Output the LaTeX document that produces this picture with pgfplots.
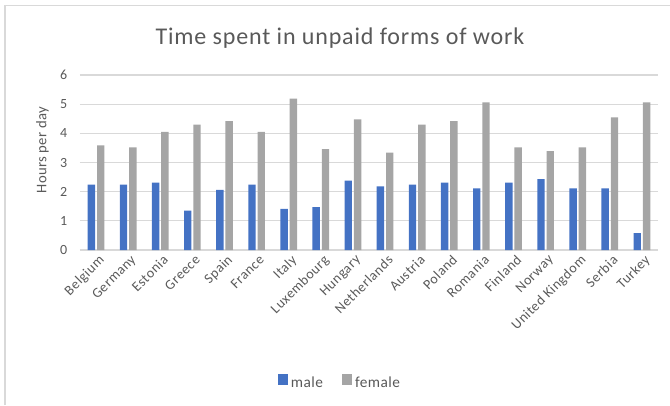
\documentclass[border=0pt]{standalone}
\usepackage{pgfplots}
\pgfplotsset{compat=1.18}
\usepackage{fontspec}
\setmainfont{Carlito}
\definecolor{tickc}{HTML}{595959}
\definecolor{gridc}{HTML}{D9D9D9}
\definecolor{malec}{HTML}{4472C4}
\definecolor{femalec}{HTML}{A5A5A5}
\begin{document}
\begin{tikzpicture}
\path[use as bounding box] (-60pt,-116.25pt) rectangle (442.5pt,187.5pt);
\draw[color=gridc, line width=1.2pt] (-56.25pt,-116.25pt) -- (-56.25pt,183.4pt) -- (442.5pt,183.4pt);
\node[font=\fontsize{18}{21}\selectfont\addfontfeatures{LetterSpace=3.5}, text=tickc] at (195pt,159pt) {Time spent in unpaid forms of work};
\begin{axis}[
  at={(0pt,0pt)}, anchor=south west,
  scale only axis, width=433.5pt, height=131.25pt,
  xmin=-0.5, xmax=17.5, ymin=0, ymax=6,
  ytick={0,1,2,3,4,5,6},
  xtick={0,...,17},
  xticklabels={Belgium,Germany,Estonia,Greece,Spain,France,Italy,Luxembourg,Hungary,Netherlands,Austria,Poland,Romania,Finland,Norway,United Kingdom,Serbia,Turkey},
  xticklabel style={rotate=45, anchor=north east, inner sep=1pt, yshift=-2pt, xshift=0pt, font=\fontsize{10.5}{12}\selectfont\addfontfeatures{LetterSpace=4}},
  ticklabel style={text=tickc},
  yticklabel style={xshift=-6pt, font=\fontsize{10.5}{12}\selectfont},
  /pgf/number format/assume math mode=true,
  major tick length=0pt,
  axis line style={draw=none},
  ymajorgrids, grid style={color=gridc, line width=0.9pt},
  ylabel={Hours per day},
  ylabel style={at={(axis description cs:-0.065,0.57)}, anchor=center, font=\fontsize{11}{13}\selectfont\addfontfeatures{LetterSpace=2}, text=tickc},
  ybar, bar width=0.23,
  legend columns=2,
  legend style={at={(0.45,-0.76)}, anchor=center, draw=none, font=\fontsize{11.5}{13}\selectfont\addfontfeatures{LetterSpace=3}, text=tickc, /tikz/every even column/.append style={column sep=12pt}},
  legend image code/.code={\fill[#1] (0pt,-1pt) rectangle (8pt,7pt);},
]
\addplot[fill=malec, draw=none, bar shift=-0.145] coordinates {
(0,2.24) (1,2.24) (2,2.31) (3,1.35) (4,2.06) (5,2.24) (6,1.41) (7,1.47) (8,2.38) (9,2.18) (10,2.24) (11,2.31) (12,2.11) (13,2.31) (14,2.43) (15,2.11) (16,2.11) (17,0.58)};
\addplot[fill=femalec, draw=none, bar shift=0.145] coordinates {
(0,3.59) (1,3.52) (2,4.05) (3,4.30) (4,4.42) (5,4.05) (6,5.19) (7,3.46) (8,4.48) (9,3.34) (10,4.30) (11,4.42) (12,5.06) (13,3.52) (14,3.39) (15,3.52) (16,4.55) (17,5.06)};
\legend{male,female}
\end{axis}
\end{tikzpicture}
\end{document}
